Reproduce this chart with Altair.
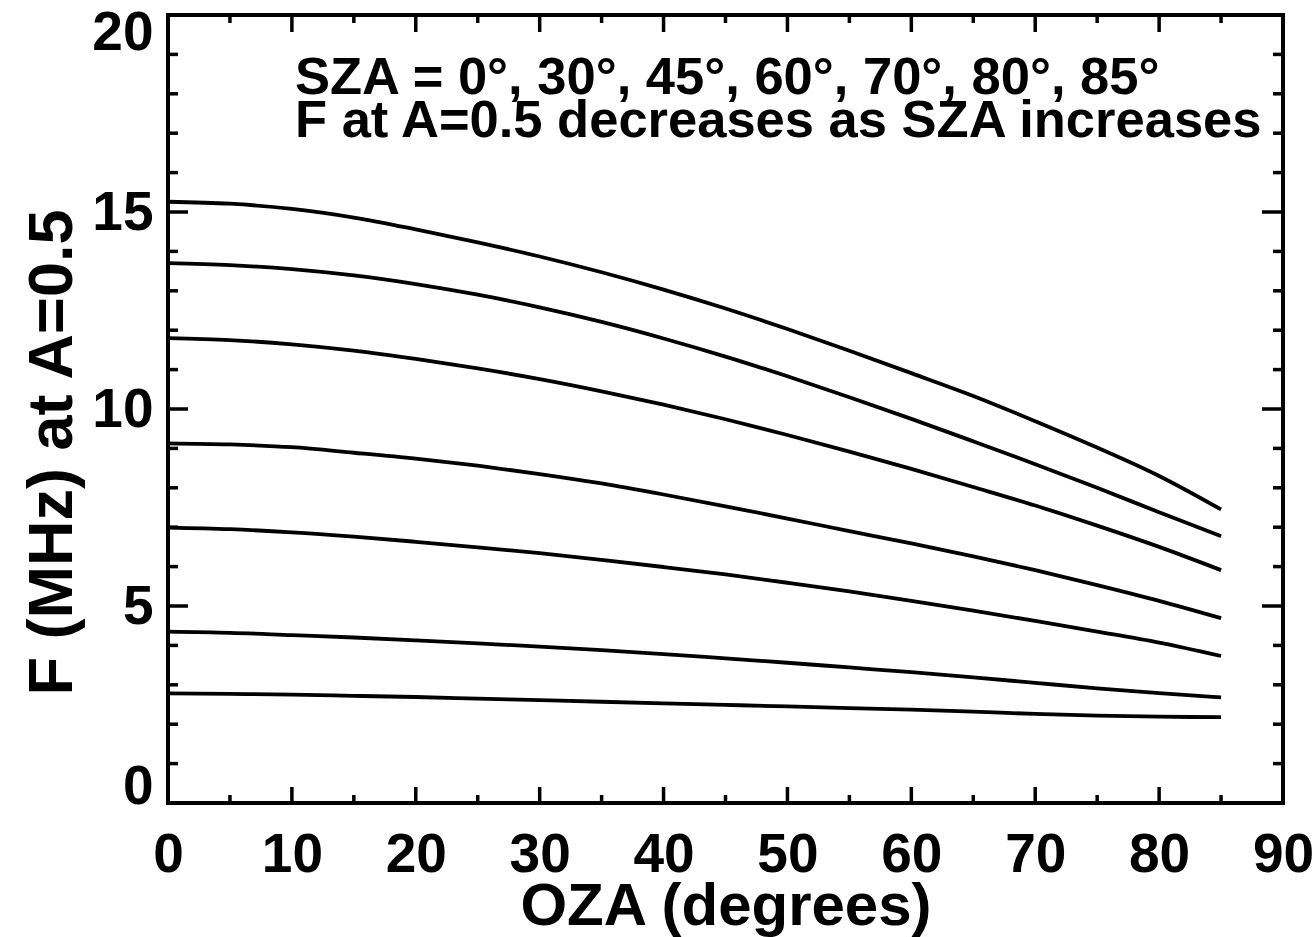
import altair as alt
import pandas as pd

# Observer zenith angles (degrees) at which each curve is sampled
oza = [0, 5, 10, 15, 20, 25, 30, 35, 40, 45, 50, 55, 60, 65, 70, 75, 80, 85]

# Solar zenith angles, one curve each
sza = [0, 30, 45, 60, 70, 80, 85]

# F (MHz) at A=0.5 for each SZA, sampled at the OZA values above
f_sza0 = [15.26, 15.21, 15.08, 14.86, 14.56, 14.23, 13.87, 13.47, 13.03, 12.55,
          12.03, 11.48, 10.91, 10.33, 9.69, 9.02, 8.30, 7.45]
f_sza30 = [13.70, 13.65, 13.55, 13.39, 13.17, 12.90, 12.58, 12.21, 11.79, 11.33,
           10.83, 10.30, 9.75, 9.18, 8.60, 8.00, 7.38, 6.77]
f_sza45 = [11.80, 11.75, 11.64, 11.48, 11.27, 11.03, 10.76, 10.45, 10.11, 9.74,
           9.34, 8.92, 8.48, 8.02, 7.55, 7.04, 6.50, 5.91]
f_sza60 = [9.13, 9.10, 9.03, 8.89, 8.74, 8.56, 8.35, 8.11, 7.83, 7.53,
           7.22, 6.90, 6.59, 6.26, 5.91, 5.53, 5.13, 4.69]
f_sza70 = [6.99, 6.95, 6.87, 6.76, 6.63, 6.49, 6.34, 6.17, 5.99, 5.80,
           5.59, 5.37, 5.13, 4.88, 4.62, 4.35, 4.07, 3.73]
f_sza80 = [4.35, 4.32, 4.26, 4.20, 4.13, 4.05, 3.97, 3.88, 3.78, 3.67,
           3.56, 3.44, 3.32, 3.19, 3.05, 2.91, 2.79, 2.68]
f_sza85 = [2.78, 2.77, 2.75, 2.72, 2.69, 2.65, 2.61, 2.57, 2.53, 2.49,
           2.45, 2.41, 2.37, 2.32, 2.26, 2.22, 2.19, 2.18]

series = [f_sza0, f_sza30, f_sza45, f_sza60, f_sza70, f_sza80, f_sza85]

# Axis tick positions
x_major = [0, 10, 20, 30, 40, 50, 60, 70, 80, 90]
x_minor = [5, 15, 25, 35, 45, 55, 65, 75, 85]
y_major = [0, 5, 10, 15, 20]
y_minor = [v for v in range(1, 20) if v % 5 != 0]

note_lines = ["SZA = 0°, 30°, 45°, 60°, 70°, 80°, 85°",
              "F at A=0.5 decreases as SZA increases"]

W, H = 1115, 788
FONT = "Liberation Sans"

rows = []
for s, vals in zip(sza, series):
    for a, f in zip(oza, vals):
        rows.append({"OZA": a, "F": f, "SZA": s})
df = pd.DataFrame(rows)

xs = alt.Scale(domain=[0, 90], nice=False, zero=False)
ys = alt.Scale(domain=[0, 20], nice=False, zero=False)

# end labels on the y axis sit inside the frame
y_label_shift = {
    "condition": [
        {"test": "datum.value === 0", "value": -17},
        {"test": "datum.value === 20", "value": 17},
    ],
    "value": 0,
}

x_axis = alt.Axis(values=x_major, title="OZA (degrees)", labelPadding=25, labelFlush=False,
                  titleBaseline="alphabetic", titleY=121, titleFontSize=60)
y_axis = alt.Axis(values=y_major, title="F (MHz) at A=0.5", labelPadding=15, labelFlush=False,
                  labelOffset=y_label_shift, titleX=-116, titleY=437,
                  titleBaseline="middle", titleAlign="center", titleAngle=270,
                  titleFontSize=63)

curves = alt.Chart(df).mark_line(color="black", strokeWidth=3.8, interpolate="monotone").encode(
    x=alt.X("OZA:Q", scale=xs, axis=x_axis),
    y=alt.Y("F:Q", scale=ys, axis=y_axis),
    detail="SZA:N",
)


def xticks(vals, length, top):
    d = pd.DataFrame({"OZA": vals})
    if top:
        y0, y1 = 0, length
    else:
        y0, y1 = H, H - length
    return alt.Chart(d).mark_rule(color="black", strokeWidth=3.5).encode(
        x=alt.X("OZA:Q", scale=xs, axis=x_axis),
        y=alt.value(y0), y2=alt.value(y1))


def yticks(vals, length, right):
    d = pd.DataFrame({"F": vals})
    if right:
        x0, x1 = W, W - length
    else:
        x0, x1 = 0, length
    return alt.Chart(d).mark_rule(color="black", strokeWidth=3.5).encode(
        y=alt.Y("F:Q", scale=ys, axis=y_axis),
        x=alt.value(x0), x2=alt.value(x1))


ticks = [
    xticks(x_major, 16, False), xticks(x_minor, 8, False),
    xticks(x_major, 17, True), xticks(x_minor, 8, True),
    yticks(y_major, 20, False), yticks(y_minor, 10, False),
    yticks(y_major, 21, True), yticks(y_minor, 10, True),
]

note = alt.Chart(pd.DataFrame({"t": [note_lines]})).mark_text(
    font=FONT, fontWeight="bold", fontSize=52.5, lineHeight=43,
    align="left", baseline="alphabetic", color="black",
).encode(text="t", x=alt.value(127), y=alt.value(79))

chart = alt.layer(curves, *ticks, note).properties(
    width=W, height=H,
    autosize="none",
    padding={"left": 168, "top": 15, "right": 33, "bottom": 134},
).configure_view(
    stroke="black", strokeWidth=4,
).configure_axis(
    domain=False, ticks=False, grid=False,
    labelFont=FONT, labelFontWeight="bold", labelFontSize=55, labelColor="black",
    titleFont=FONT, titleFontWeight="bold", titleColor="black",
)

chart.save("out.html", embed_options={"renderer": "svg", "actions": False})
